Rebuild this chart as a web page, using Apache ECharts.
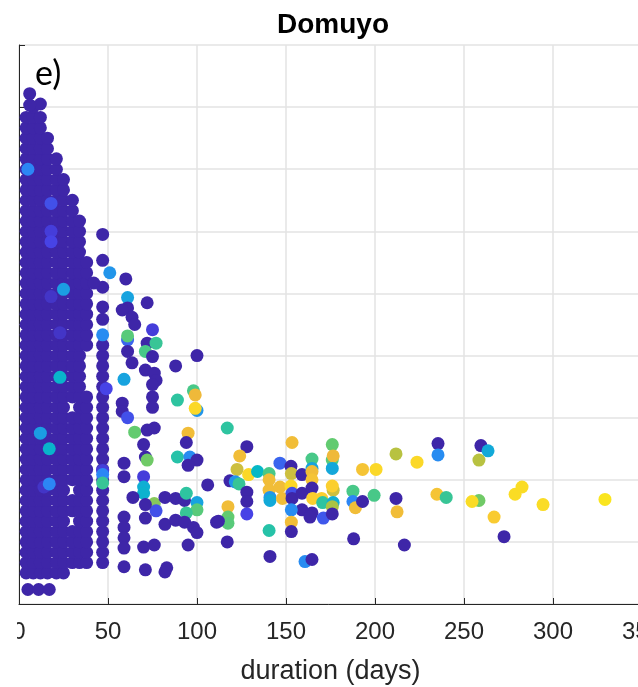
<!DOCTYPE html>
<html>
<head>
<meta charset="utf-8">
<script src="https://cdn.jsdelivr.net/npm/echarts@6/dist/echarts.min.js"></script>
<style>
  html, body { margin: 0; padding: 0; background: #fff; }
  #chart { width: 638px; height: 687px; }
</style>
</head>
<body>
<div id="chart"></div>
<script>
// x ticks (days); y axis has hidden labels, 9 intervals of 6 units
var xTicks = [0, 50, 100, 150, 200, 250, 300, 350];
var yTickStep = 6;
var yMax = 54;

// dense cluster at short durations: one column per duration, list of levels
var blobDays = [4, 8, 12, 16, 21, 25, 30, 34, 38, 47];
var blobLevels = [
  [3,4,5,6,7,8,9,10,11,12,13,14,15,16,17,18,19,20,21,22,23,24,25,26,27,28,29,30,31,32,33,34,35,36,37,38,39,40,41,42,43,44,45,46,47],
  [3,4,5,6,7,8,9,10,11,12,13,14,15,16,17,18,19,20,21,22,23,24,25,26,27,28,29,30,31,32,33,34,35,36,37,38,39,40,41,42,43,44,45,46,47,48],
  [3,4,5,6,7,8,9,10,11,12,13,14,15,16,17,18,19,20,21,22,23,24,25,26,27,28,29,30,31,32,33,34,35,36,37,38,39,40,41,42,43,44,45,46,47],
  [3,4,5,6,7,8,9,10,11,12,13,14,15,16,17,18,19,20,21,22,23,24,25,26,27,28,29,30,31,32,33,34,35,36,37,38,39,40,41,42,43,44,45],
  [3,4,5,6,7,8,9,10,11,12,13,14,15,16,17,18,19,20,21,22,23,24,25,26,27,28,29,30,31,32,33,34,35,36,37,38,39,40,41,42,43],
  [3,4,5,6,7,8,9,10,11,12,13,14,15,16,17,18,19,20,21,22,23,24,25,26,27,28,29,30,31,32,33,34,35,36,37,38,39,40,41],
  [4,5,6,7,9,10,12,13,14,15,16,17,18,20,21,22,23,24,25,26,27,28,29,30,31,32,33,34,35,36,37,38,39],
  [4,5,6,7,8,9,10,11,12,13,14,15,16,17,18,19,20,21,22,23,24,25,26,27,28,29,30,31,32,33,34,35,36,37],
  [4,5,6,7,8,9,10,11,12,13,14,15,16,17,18,19,20,25,26,27,28,29,30,31,32,33],
  [4,5,6,7,8,9,10,11,12,13,14,15,16,17,18,19,20,21,22,23,24,25,27.5,28.7,30.6,33.2,35.7]
];

// remaining events: [duration, level, colour value 0..1]
var loosePoints = [
  [6,49.3,0],[12,48.3,0],[6,48.2,0],[5,1.4,0],[11,1.4,0],[17,1.4,0],
  [5,42,0.2],[18,38.7,0.12],[18,36,0.08],[18,35,0.1],[25,30.4,0.28],[18,29.7,0.05],
  [23,26.2,0.05],[23,21.9,0.38],[12,16.5,0.28],[17,15,0.38],[14,11.3,0.05],[17,11.6,0.2],
  [42,31,0],[51,32,0.25],[60,31.4,0],[61,29.6,0.3],[72,29.1,0],[61,28.6,0],[58,28.4,0],
  [63.5,27.7,0],[65,27,0],[75,26.5,0.08],[47,26,0.22],[61,25.5,0.15],[61,25.9,0.58],
  [72,25.2,0],[77,25.2,0.52],[71,24.4,0.55],[75,23.9,0],[61,24.4,0],[63.5,23.3,0],
  [88,23,0],[100,24,0],[71,22.6,0],[59,21.7,0.3],[76,22.3,0],[77,21.6,0],[49,20.8,0.1],
  [75,21.2,0],[75,20,0],[75,19,0],[58,19.4,0],[58,18.6,0],[61,18,0.12],
  [98,20.6,0.55],[99,20.2,0.8],[89,19.7,0.5],[100,18.7,0.25],[99,18.9,0.92],
  [95,16.5,0.82],[94,15.6,0],[65,16.6,0.6],[72,16.8,0],[76,17,0],[70,15.4,0],
  [71,14.2,0],[72,13.9,0.62],[89,14.2,0.48],[96,14.2,0.22],[100,13.9,0],[95,13.4,0],
  [59,13.6,0],[59,12.3,0],[47,12.9,0.08],[47,12.5,0.2],[47,11.7,0.52],[70,12.3,0.08],
  [70,11.3,0.35],[70,10.7,0.37],[76,9.7,0.65],[77,9,0.12],[82,10.3,0],[88,10.2,0],
  [93,10,0],[94,10.7,0.5],[100,9.8,0.3],[100,9.1,0.58],[94,8.8,0.52],[106,11.5,0],
  [111,7.9,0],[82,7.7,0],[88,8.1,0],[93,7.9,0],[98,7.4,0],[100,6.9,0],
  [59,8.4,0],[59,7.4,0],[59,6.4,0],[59,5.4,0],[59,3.6,0],[64,10.3,0],[71,9.6,0],[71,8.3,0],
  [70,5.5,0],[76,5.7,0],[95,5.7,0],[71,3.3,0],[82,3.1,0],[83,3.5,0],
  [117,17,0.5],[128,15.2,0],[124,14.3,0.82],[122.5,13,0.75],[129,12.5,0.92],
  [118.5,11.9,0],[121.5,11.8,0.25],[123.6,11.6,0.52],[128,10.8,0],[128,9.9,0],
  [117.4,9.4,0.82],[117.4,8.4,0.6],[117.4,7.8,0.58],[128,8.7,0.1],[112,8,0],[117,6,0],
  [134,12.8,0.4],[140.5,12.6,0.55],[140.5,12,0.82],[140.5,11,0.82],[141,10.3,0.25],[141,10,0.33],
  [146.6,13.6,0.15],[152.8,13.3,0],[153.4,15.6,0.82],[153,12.6,0.75],[159,12.5,0],
  [164.6,14,0.55],[164.6,13.1,0.3],[164.6,12.8,0.82],[164.6,12,0.85],
  [176,15.4,0.6],[176,13.9,0.58],[176.5,14.3,0.8],[176,13.1,0.32],
  [146.6,11.3,0.82],[148,10.2,0.82],[152.8,11.4,0.92],[153.4,10.7,0.12],[153.4,10.2,0],
  [159,10.7,0],[159,9.1,0],[153,9.1,0.22],[153,7.9,0.82],[153,7,0],
  [164.6,11.2,0],[165,10.2,0.9],[170,10.2,0.9],[170.6,9.8,0.5],[164.6,8.8,0],[171,8.3,0.13],[163.5,8.4,0],
  [176.5,11,0.75],[176,11.4,0.9],[176.5,9.8,0.35],[176,9.4,0.7],[176,8.7,0],
  [187.6,10.9,0.55],[187.6,9.9,0.2],[189,9.3,0.82],[193,9.9,0],[193,13,0.85],[200.6,13,0.92],
  [199.5,10.5,0.55],[211.8,14.5,0.72],[223.6,13.7,0.92],[211.8,10.2,0],[212.4,8.9,0.82],
  [140.5,7.1,0.48],[141,4.6,0],[188,6.3,0],[216.5,5.7,0],[160.7,4.1,0.22],[164.6,4.3,0],
  [235.4,15.5,0],[235.4,14.4,0.22],[259.5,15.3,0],[263.5,14.8,0.33],[258.4,13.9,0.72],
  [234.8,10.6,0.85],[240,10.3,0.52],[258.4,10,0.62],[254.5,9.9,0.93],[266.9,8.4,0.88],
  [278.7,10.6,0.93],[282.6,11.3,0.93],[294.4,9.6,0.93],[329.2,10.1,0.95],[272.5,6.5,0]
];

var parula = ['#3e26a8', '#4743e6', '#2c86f5', '#17a3df', '#06b8c6', '#2ec4a0',
  '#62cb70', '#aac443', '#efb93a', '#fbcf2f', '#f9fb0e'];

var points = [];
for (var i = 0; i < blobDays.length; i++) {
  for (var j = 0; j < blobLevels[i].length; j++) {
    points.push([blobDays[i], blobLevels[i][j], 0]);
  }
}
for (var k = 0; k < loosePoints.length; k++) {
  points.push(loosePoints[k]);
}

var chart = echarts.init(document.getElementById("chart"));

var option = {
  animation: false,
  backgroundColor: "#fff",
  title: {
    text: "Domuyo",
    left: 272,
    top: 6,
    textStyle: {
      fontFamily: "Liberation Sans",
      fontWeight: "bold",
      fontSize: 28,
      color: "#000",
    },
  },
  grid: { left: 19, top: 45, width: 623, height: 559, outerBoundsMode: "none", containLabel: false },
  visualMap: {
    show: false,
    type: "continuous",
    dimension: 2,
    min: 0,
    max: 1,
    inRange: { color: parula },
  },
  xAxis: {
    type: "value",
    min: xTicks[0],
    max: xTicks[xTicks.length - 1],
    interval: 50,
    name: "duration (days)",
    nameLocation: "middle",
    nameGap: 54,
    nameTextStyle: { fontFamily: "Liberation Sans", fontSize: 27, color: "#262626" },
    axisLine: { lineStyle: { color: "#262626", width: 1 } },
    axisTick: { inside: true, length: 6, lineStyle: { color: "#262626" } },
    axisLabel: { fontFamily: "Liberation Sans", fontSize: 24, color: "#262626", margin: 16 },
    splitLine: { lineStyle: { color: "#e3e3e3", width: 1.5 } },
  },
  yAxis: {
    type: "value",
    min: 0,
    max: yMax,
    interval: yTickStep,
    axisLine: { show: true, lineStyle: { color: "#262626", width: 1 } },
    axisTick: { show: true, inside: true, length: 6, lineStyle: { color: "#262626" } },
    axisLabel: { show: false },
    splitLine: { lineStyle: { color: "#e3e3e3", width: 1.5 } },
  },
  graphic: [
    {
      type: "text",
      left: 35,
      top: 57,
      style: { text: "e)", fontFamily: "Lato", fontSize: 34, fill: "#000" },
    },
    {
      type: "rect",
      left: 0,
      top: 614,
      shape: { width: 17, height: 40 },
      style: { fill: "#fff" },
      z: 100,
    },
  ],
  series: [
    {
      type: "scatter",
      data: points,
      symbolSize: 13,
      itemStyle: { opacity: 1 },
      silent: true,
      large: false,
    },
  ],
};

chart.setOption(option);
</script>
</body>
</html>
